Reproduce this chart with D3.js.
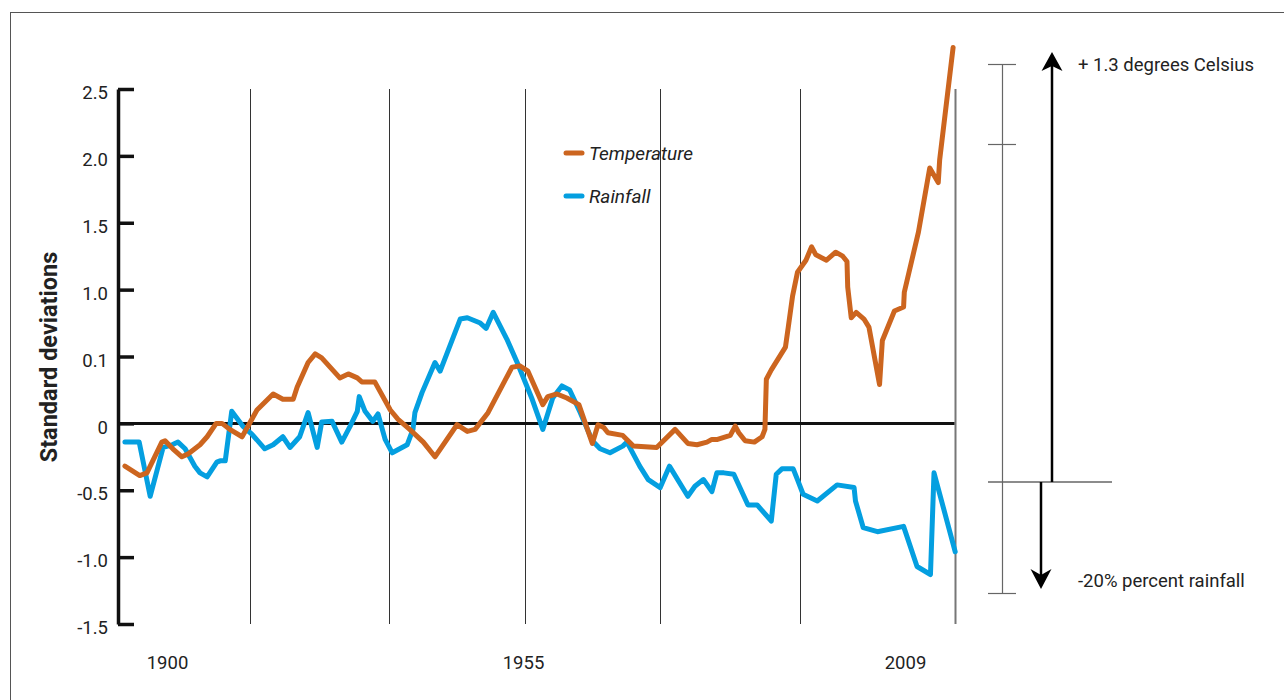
<!DOCTYPE html>
<html lang="en">
  <head>
    <meta charset="utf-8">
    <title>Temperature and rainfall</title>
    <script src="https://d3js.org/d3.v7.min.js"></script>
    <style>
      body { margin: 0; background: #fff; }
      svg text { font-family: Roboto, "Noto Sans", sans-serif; fill: #222; }
    </style>
  </head>
  <body>
    <script>

      // ----- data -----
      var tempYears = [1893.5, 1895.8, 1896.9, 1898.1, 1899.2, 1899.7, 1900.9, 1902.3, 1903.2, 1905.1,
                       1906.2, 1907.6, 1908.5, 1909.7, 1911.6, 1913.9, 1916.4, 1917.9, 1919.5, 1920.1,
                       1921.8, 1922.9, 1923.9, 1926.7, 1928.0, 1929.4, 1930.1, 1932.1, 1934.5, 1935.7,
                       1937.5, 1939.6, 1941.4, 1944.8, 1946.4, 1947.6, 1949.6, 1953.3, 1954.5, 1955.7,
                       1957.8, 1958.5, 1959.8, 1961.2, 1962.9, 1964.8, 1965.6, 1966.4, 1967.0, 1969.1,
                       1970.6, 1973.9, 1976.5, 1978.3, 1979.6, 1981.0, 1981.7, 1982.5, 1984.3, 1985.0,
                       1985.5, 1986.4, 1987.7, 1988.8, 1989.2, 1989.4, 1990.1, 1992.1, 1992.5, 1993.1,
                       1993.8, 1995.0, 1995.8, 1996.4, 1997.9, 1999.2, 2000.2, 2000.8, 2000.9, 2001.4,
                       2002.1, 2003.2, 2003.9, 2005.4, 2005.8, 2007.5, 2008.8, 2008.9, 2010.9, 2012.5,
                       2013.7, 2013.9, 2015.8];
      var tempValues = [-0.32, -0.39, -0.37, -0.25, -0.14, -0.13, -0.19, -0.25, -0.23, -0.16,
                        -0.10, 0.00, 0.00, -0.045, -0.10, 0.10, 0.22, 0.18, 0.18, 0.27,
                        0.455, 0.52, 0.49, 0.34, 0.37, 0.34, 0.31, 0.31, 0.10, 0.03,
                        -0.045, -0.14, -0.25, -0.01, -0.06, -0.045, 0.08, 0.42, 0.43, 0.39,
                        0.14, 0.20, 0.22, 0.19, 0.14, -0.15, -0.01, -0.03, -0.07, -0.09,
                        -0.17, -0.18, -0.045, -0.15, -0.16, -0.14, -0.12, -0.12, -0.09, -0.02,
                        -0.07, -0.13, -0.14, -0.10, -0.045, 0.33, 0.40, 0.57, 0.72, 0.95,
                        1.13, 1.22, 1.32, 1.26, 1.22, 1.28, 1.25, 1.21, 1.02, 0.79,
                        0.83, 0.78, 0.72, 0.29, 0.62, 0.84, 0.87, 0.98, 1.43, 1.91,
                        1.80, 1.97, 2.81];

      var rainYears = [1893.5, 1895.7, 1897.4, 1899.4, 1900.8, 1901.7, 1902.8, 1904.3, 1905.1, 1906.2,
                       1907.7, 1908.2, 1909.0, 1910.0, 1911.7, 1913.1, 1915.1, 1916.4, 1917.9, 1919.0,
                       1920.5, 1921.8, 1923.2, 1923.9, 1925.5, 1927.0, 1928.3, 1929.4, 1929.7, 1930.6,
                       1931.8, 1932.6, 1933.7, 1934.8, 1937.1, 1938.0, 1938.3, 1939.4, 1941.4, 1942.2,
                       1945.3, 1946.4, 1948.4, 1949.3, 1950.4, 1952.5, 1954.1, 1956.3, 1957.8, 1959.2,
                       1960.5, 1961.6, 1963.1, 1964.8, 1965.9, 1967.3, 1969.1, 1969.7, 1971.5, 1972.7,
                       1974.4, 1975.7, 1978.3, 1979.3, 1980.5, 1981.7, 1982.4, 1983.4, 1984.8, 1986.8,
                       1988.1, 1990.1, 1990.8, 1991.6, 1993.2, 1993.8, 1994.6, 1996.6, 1999.4, 2001.8,
                       2002.0, 2003.1, 2005.1, 2008.8, 2010.7, 2012.6, 2013.1, 2016.1];
      var rainValues = [-0.14, -0.14, -0.545, -0.18, -0.16, -0.14, -0.19, -0.32, -0.37, -0.40,
                        -0.29, -0.28, -0.28, 0.09, -0.02, -0.08, -0.19, -0.16, -0.10, -0.18,
                        -0.10, 0.08, -0.18, 0.01, 0.015, -0.14, -0.02, 0.09, 0.20, 0.09,
                        0.015, 0.07, -0.12, -0.22, -0.16, -0.045, 0.08, 0.23, 0.455, 0.39,
                        0.78, 0.79, 0.75, 0.71, 0.83, 0.63, 0.455, 0.18, -0.045, 0.19,
                        0.28, 0.25, 0.08, -0.13, -0.19, -0.22, -0.17, -0.14, -0.32, -0.42,
                        -0.48, -0.32, -0.545, -0.47, -0.42, -0.51, -0.37, -0.37, -0.38, -0.61,
                        -0.61, -0.73, -0.38, -0.34, -0.34, -0.42, -0.53, -0.58, -0.46, -0.48,
                        -0.58, -0.78, -0.81, -0.77, -1.07, -1.13, -0.37, -0.96];

      var yTickValues = [2.5, 2.0, 1.5, 1.0, 0.5, 0, -0.5, -1.0, -1.5];
      var yTickLabels = ["2.5", "2.0", "1.5", "1.0", "0.1", "0", "-0.5", "-1.0", "-1.5"];
      var xTickYears = [1900, 1955, 2009];
      var gridYears = [1912.8, 1934.3, 1955.3, 1974.4, 1994.1, 2016];

      var seriesNames = ["Temperature", "Rainfall"];
      var seriesColors = ["#cc651f", "#049fe0"];

      // ----- layout -----
      var w = 1284, h = 700;

      var svg = d3.select("body")
          .append("svg")
          .attr("width", w)
          .attr("height", h);

      svg.append("rect")
          .attr("width", w)
          .attr("height", h)
          .attr("fill", "white");

      // frame
      svg.append("rect")
          .attr("x", 10.5)
          .attr("y", 12.5)
          .attr("width", 1300)
          .attr("height", 700)
          .attr("fill", "none")
          .attr("stroke", "#555")
          .attr("stroke-width", 1);

      var xScale = d3.scaleLinear()
          .domain([1900, 1955, 2009])
          .range([167, 523, 905]);

      var yScale = d3.scaleLinear()
          .domain([-1.5, 2.5])
          .range([624, 89]);

      var x0 = 118;   // y axis position

      // vertical grid lines
      svg.append("g")
         .selectAll("line")
         .data(gridYears)
         .enter().append("line")
         .attr("x1", function(d) { return Math.round(xScale(d)) + 0.5 })
         .attr("x2", function(d) { return Math.round(xScale(d)) + 0.5 })
         .attr("y1", yScale(2.5))
         .attr("y2", yScale(-1.5))
         .attr("stroke", function(d, i) { return i == gridYears.length - 1 ? "#777" : "#333" })
         .attr("stroke-width", function(d, i) { return i == gridYears.length - 1 ? 2 : 1 });

      // zero line
      svg.append("line")
         .attr("x1", x0)
         .attr("x2", xScale(2016))
         .attr("y1", yScale(0))
         .attr("y2", yScale(0))
         .attr("stroke", "#111")
         .attr("stroke-width", 3);

      // y axis
      var yAxis = d3.axisLeft(yScale)
          .tickValues(yTickValues)
          .tickFormat(function(d, i) { return yTickLabels[i] })
          .tickSizeInner(-16)
          .tickSizeOuter(0)
          .tickPadding(10);

      var yg = svg.append("g")
         .attr("transform", "translate(" + x0 + ",0)")
         .call(yAxis);
      yg.select(".domain").attr("stroke", "#111").attr("stroke-width", 3.5);
      yg.selectAll(".tick line").attr("stroke", "#111").attr("stroke-width", 3.5);
      yg.selectAll(".tick text")
        .attr("font-size", 18.5)
        .attr("dy", "0.52em")
        .attr("font-family", "Roboto, sans-serif")
        .attr("fill", "#222");

      svg.append("text")
         .attr("transform", "translate(57,357) rotate(-90)")
         .attr("text-anchor", "middle")
         .attr("font-size", 23.5)
         .attr("font-weight", "bold")
         .attr("fill", "#111")
         .text("Standard deviations");

      // x labels
      var xAxis = d3.axisBottom(xScale)
          .tickValues(xTickYears)
          .tickFormat(d3.format("d"))
          .tickSize(0)
          .tickPadding(0);

      var xg = svg.append("g")
         .attr("transform", "translate(0,656)")
         .call(xAxis);
      xg.select(".domain").remove();
      xg.selectAll(".tick text")
        .attr("font-size", 18.5)
        .attr("font-family", "Roboto, sans-serif")
        .attr("fill", "#222");

      // lines
      var line = d3.line()
          .x(function(d) { return xScale(d[0]) })
          .y(function(d) { return yScale(d[1]) });

      var tempData = d3.zip(tempYears, tempValues);
      var rainData = d3.zip(rainYears, rainValues);

      svg.append("path")
         .datum(rainData)
         .attr("d", line)
         .attr("fill", "none")
         .attr("stroke", seriesColors[1])
         .attr("stroke-width", 5)
         .attr("stroke-linejoin", "round")
         .attr("stroke-linecap", "round");

      svg.append("path")
         .datum(tempData)
         .attr("d", line)
         .attr("fill", "none")
         .attr("stroke", seriesColors[0])
         .attr("stroke-width", 5)
         .attr("stroke-linejoin", "round")
         .attr("stroke-linecap", "round");

      // legend
      var legend = svg.append("g")
          .selectAll("g")
          .data(seriesNames)
          .enter().append("g")
          .attr("transform", function(d, i) { return "translate(566," + (153 + i * 43) + ")" });

      legend.append("line")
          .attr("x1", 0).attr("x2", 16)
          .attr("stroke", function(d, i) { return seriesColors[i] })
          .attr("stroke-width", 5)
          .attr("stroke-linecap", "round");

      legend.append("text")
          .attr("x", 23)
          .attr("dy", "0.35em")
          .attr("font-size", 19)
          .attr("font-style", "italic")
          .attr("fill", "#111")
          .text(function(d) { return d });

      // right annotation
      var ann = svg.append("g");

      ann.append("line")
         .attr("x1", 1002.5).attr("x2", 1002.5)
         .attr("y1", 64).attr("y2", 593)
         .attr("stroke", "#666").attr("stroke-width", 1.2);

      [64, 144, 593].forEach(function(yy) {
        ann.append("line")
           .attr("x1", 988).attr("x2", 1016)
           .attr("y1", yy + 0.5).attr("y2", yy + 0.5)
           .attr("stroke", "#666").attr("stroke-width", 1.2);
      });

      ann.append("line")
         .attr("x1", 988).attr("x2", 1112)
         .attr("y1", 482).attr("y2", 482)
         .attr("stroke", "#666").attr("stroke-width", 1.5);

      // up arrow
      ann.append("line")
         .attr("x1", 1052).attr("x2", 1052)
         .attr("y1", 482).attr("y2", 64)
         .attr("stroke", "#000").attr("stroke-width", 2.5);
      ann.append("path")
         .attr("d", "M1052,52 L1062.5,71 L1052,66 L1041.5,71 Z")
         .attr("fill", "#000");

      // down arrow
      ann.append("line")
         .attr("x1", 1041).attr("x2", 1041)
         .attr("y1", 482).attr("y2", 578)
         .attr("stroke", "#000").attr("stroke-width", 2.5);
      ann.append("path")
         .attr("d", "M1041,589 L1051.5,569 L1041,575 L1030.5,569 Z")
         .attr("fill", "#000");

      ann.append("text")
         .attr("x", 1078).attr("y", 65)
         .attr("dy", "0.35em")
         .attr("font-size", 18.5)
         .text("+ 1.3 degrees Celsius");

      ann.append("text")
         .attr("x", 1078).attr("y", 581)
         .attr("dy", "0.35em")
         .attr("font-size", 18.5)
         .text("-20% percent rainfall");

    </script>
  </body>
</html>
